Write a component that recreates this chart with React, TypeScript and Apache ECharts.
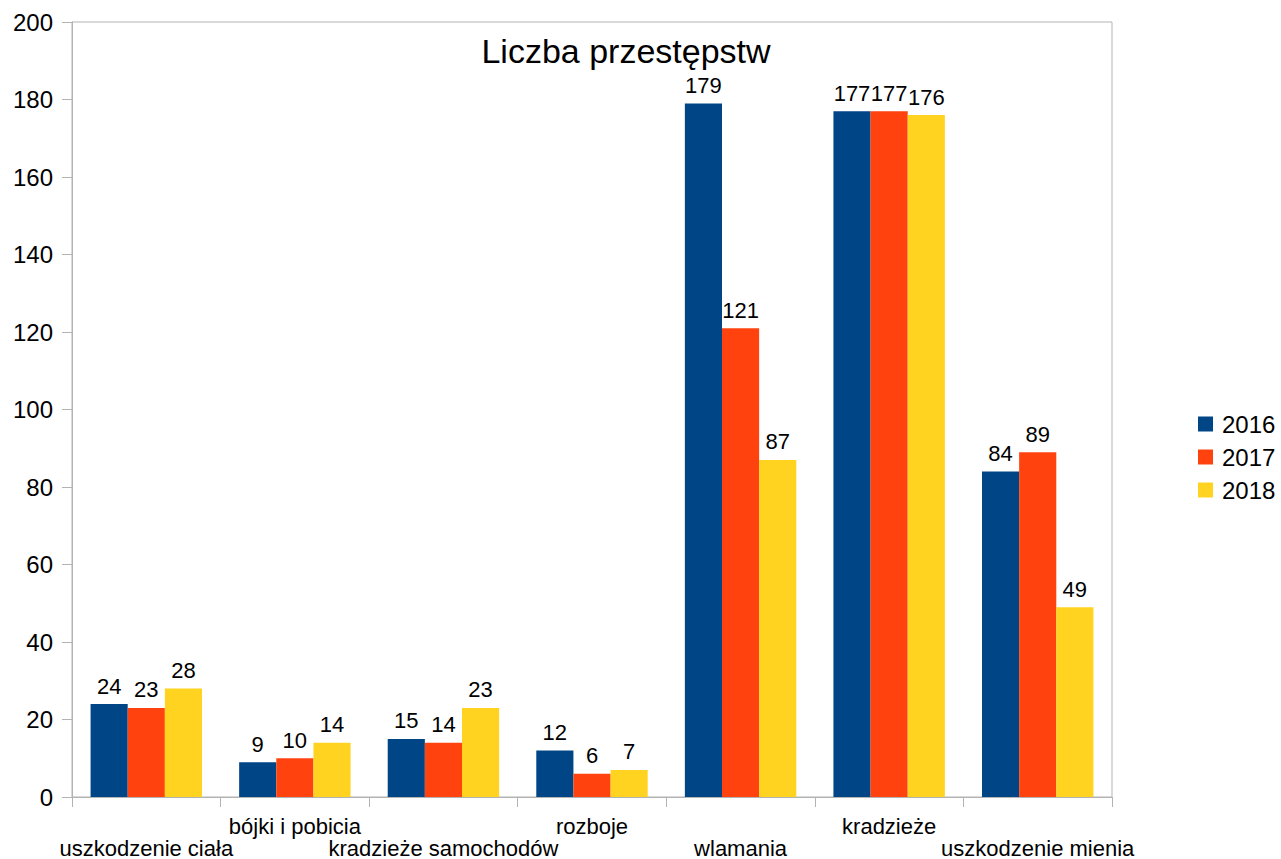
import React, { useEffect, useRef } from "react";
import * as echarts from "echarts";

const categories = [
  "uszkodzenie ciała",
  "bójki i pobicia",
  "kradzieże samochodów",
  "rozboje",
  "wlamania",
  "kradzieże",
  "uszkodzenie mienia",
];
const seriesNames = ["2016", "2017", "2018"];
const values2016 = [24, 9, 15, 12, 179, 177, 84];
const values2017 = [23, 10, 14, 6, 121, 177, 89];
const values2018 = [28, 14, 23, 7, 87, 176, 49];
const colors = ["#004586", "#ff420e", "#ffd320"];
const titleText = "Liczba przestępstw";

const FONT = "'Liberation Sans', Arial, sans-serif";

export default function App() {
  const ref = useRef<HTMLDivElement>(null);
  useEffect(() => {
    if (!ref.current) return;
    const chart = echarts.init(ref.current, undefined, { renderer: "svg" });
    const allValues = [values2016, values2017, values2018];
    chart.setOption({
      animation: false,
      backgroundColor: "#ffffff",
      textStyle: { fontFamily: FONT },
      title: {
        text: titleText,
        left: 621,
        top: 29,
        textAlign: "center",
        textStyle: { fontFamily: FONT, fontSize: 34, fontWeight: "normal", color: "#000" },
      },
      legend: {
        orient: "vertical",
        left: 1193,
        top: 407,
        itemWidth: 15,
        itemHeight: 15,
        itemGap: 9,
        icon: "rect",
        textStyle: { fontFamily: FONT, fontSize: 24, color: "#000", padding: [0, 0, 0, 4] },
        data: seriesNames,
      },
      grid: {
        left: 72,
        right: 169,
        top: 22,
        bottom: 62,
        show: true,
        borderColor: "#b3b3b3",
        borderWidth: 1,
        containLabel: false,
      },
      xAxis: {
        type: "category",
        data: categories,
        axisLine: { lineStyle: { color: "#b3b3b3" } },
        axisTick: { show: true, length: 10, lineStyle: { color: "#b3b3b3" } },
        axisLabel: {
          interval: 0,
          margin: 18,
          fontFamily: FONT,
          fontSize: 22,
          color: "#000",
          lineHeight: 22,
          formatter: (v: string, i: number) => (i % 2 === 0 ? "\n" + v : v),
        },
        splitLine: { show: false },
      },
      yAxis: {
        type: "value",
        min: 0,
        max: 200,
        interval: 20,
        axisLine: { show: true, lineStyle: { color: "#b3b3b3" } },
        axisTick: { show: true, length: 10, lineStyle: { color: "#b3b3b3" } },
        axisLabel: { margin: 19, fontFamily: FONT, fontSize: 24, color: "#000" },
        splitLine: { show: false },
      },
      series: seriesNames.map((name, i) => ({
        name,
        type: "bar",
        data: allValues[i],
        barGap: "0%",
        barCategoryGap: "25%",
        itemStyle: { color: colors[i] },
        label: {
          show: true,
          position: "top",
          distance: 7,
          fontFamily: FONT,
          fontSize: 22,
          color: "#000",
        },
      })),
    });
    return () => chart.dispose();
  }, []);
  return (
    <div
      ref={ref}
      style={{ position: "fixed", left: 0, top: 0, width: 1281, height: 859, background: "#fff" }}
    />
  );
}
